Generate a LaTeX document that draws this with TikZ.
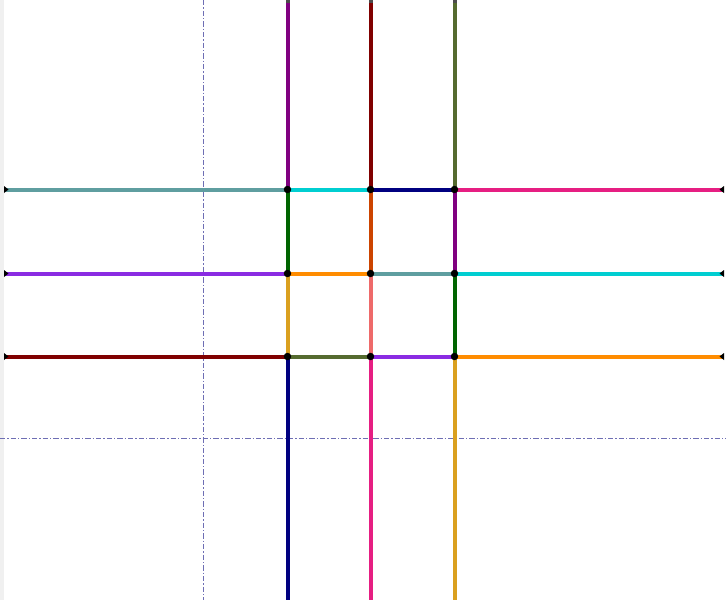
\documentclass[tikz,border=0pt]{standalone}
\usetikzlibrary{calc}
\begin{document}
\begin{tikzpicture}[x=0.75pt,y=-0.75pt,
  seg/.style={line width=3pt},
  guide/.style={draw={rgb,255:red,110;green,110;blue,180},line width=0.7pt,dash pattern=on 4pt off 1.5pt on 1pt off 1.5pt},
  dotnode/.style={circle,fill=black,inner sep=0pt,minimum size=5.6pt}]
\useasboundingbox (0,0) rectangle (726,600);
\fill[gray!12] (0,0) rectangle (3.5,600);
\definecolor{cadet}{RGB}{95,158,160}
\definecolor{dturq}{RGB}{0,206,209}
\definecolor{navyc}{RGB}{0,0,128}
\definecolor{dpink}{RGB}{230,30,130}
\definecolor{bviolet}{RGB}{138,43,226}
\definecolor{dorange}{RGB}{255,140,0}
\definecolor{maroonc}{RGB}{128,0,0}
\definecolor{dolive}{RGB}{85,107,47}
\definecolor{purplec}{RGB}{128,0,128}
\definecolor{dgreen}{RGB}{0,100,0}
\definecolor{golden}{RGB}{218,160,32}
\definecolor{ored}{RGB}{204,68,0}
\definecolor{lcoral}{RGB}{238,106,106}
% guides
\coordinate (gvt) at (203,0); \coordinate (gvb) at (203,600);
\coordinate (ghl) at (0,438); \coordinate (ghr) at (726,438);
\draw[guide] (gvt) -- (gvb);
\draw[guide] (ghl) -- (ghr);
% coordinates
\foreach \x/\n in {287.5/a,370.5/b,454.5/c} {
  \coordinate (\n t) at (\x,0);
  \coordinate (\n u) at (\x,600);
}
\foreach \y/\m in {189.5/1,273.5/2,356.5/3} {
  \coordinate (l\m) at (4,\y);
  \coordinate (r\m) at (724,\y);
  \coordinate (a\m) at (287.5,\y);
  \coordinate (b\m) at (370.5,\y);
  \coordinate (c\m) at (454.5,\y);
}
% rows
\draw[seg,cadet] (l1) -- (a1); \draw[seg,dturq] (a1) -- (b1); \draw[seg,navyc] (b1) -- (c1); \draw[seg,dpink] (c1) -- (r1);
\draw[seg,bviolet] (l2) -- (a2); \draw[seg,dorange] (a2) -- (b2); \draw[seg,cadet] (b2) -- (c2); \draw[seg,dturq] (c2) -- (r2);
\draw[seg,maroonc] (l3) -- (a3); \draw[seg,dolive] (a3) -- (b3); \draw[seg,bviolet] (b3) -- (c3); \draw[seg,dorange] (c3) -- (r3);
% columns
\draw[seg,purplec] (at) -- (a1); \draw[seg,dgreen] (a1) -- (a2); \draw[seg,golden] (a2) -- (a3); \draw[seg,navyc] (a3) -- (au);
\draw[seg,maroonc] (bt) -- (b1); \draw[seg,ored] (b1) -- (b2); \draw[seg,lcoral] (b2) -- (b3); \draw[seg,dpink] (b3) -- (bu);
\draw[seg,dolive] (ct) -- (c1); \draw[seg,purplec] (c1) -- (c2); \draw[seg,dgreen] (c2) -- (c3); \draw[seg,golden] (c3) -- (cu);
% dots
\foreach \n in {a,b,c} \foreach \m in {1,2,3} \node[dotnode] at (\n\m) {};
% end tips
\foreach \m in {1,2,3} {
  \fill[black] ($(l\m)+(0,-3.5)$) -- ($(l\m)+(4.5,0)$) -- ($(l\m)+(0,3.5)$) -- cycle;
  \fill[black] ($(r\m)+(0,-3.5)$) -- ($(r\m)+(-4.5,0)$) -- ($(r\m)+(0,3.5)$) -- cycle;
}
\foreach \n in {a,b,c} \fill[black!70] ($(\n t)+(-2,0)$) rectangle ($(\n t)+(2,2.5)$);
\end{tikzpicture}
\end{document}
